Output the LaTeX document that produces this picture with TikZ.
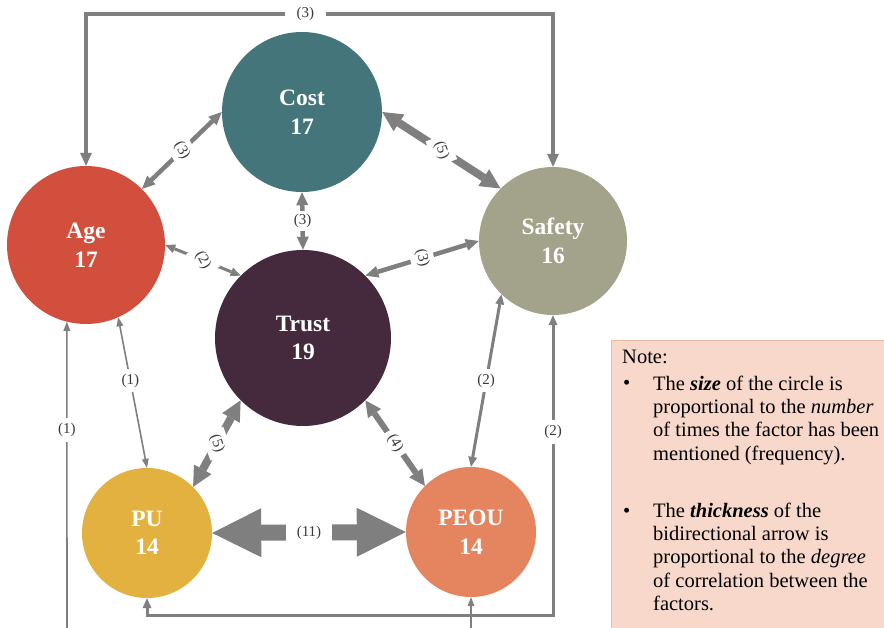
\documentclass[tikz,border=0pt]{standalone}
\usepackage{fontspec}
\setmainfont{Liberation Serif}
\usetikzlibrary{arrows.meta,calc}
\definecolor{agray}{HTML}{7F7F7F}
\definecolor{cCost}{HTML}{43757A}
\definecolor{cAge}{HTML}{D34F3D}
\definecolor{cSafety}{HTML}{A3A28A}
\definecolor{cTrust}{HTML}{45293C}
\definecolor{cPU}{HTML}{E3B13F}
\definecolor{cPEOU}{HTML}{E5855F}
\definecolor{noteFill}{HTML}{F8D8CB}
\definecolor{noteLine}{HTML}{F2B9A2}
\definecolor{lblText}{HTML}{3A3A3A}
\tikzset{
  fac/.style={circle, inner sep=0pt, text=white, align=center,
    font=\fontsize{23.5}{28.5}\selectfont\bfseries},
  lbl/.style={fill=white, text=lblText, inner sep=5pt,
    font=\fontsize{15}{15}\selectfont},
  notetext/.style={inner sep=0pt, text=black, align=left,
    font=\fontsize{20.5}{23.4}\selectfont},
  notebox/.style={fill=noteFill, draw=noteLine, line width=1pt},
  lnA/.style={draw=agray, line width=1.6pt, line join=miter},
  lnB/.style={draw=agray, line width=3pt, line join=miter},
  lnC/.style={draw=agray, line width=4.5pt, line join=miter},
  lnD/.style={draw=agray, line width=6pt},
  lnE/.style={draw=agray, line width=8pt},
  lnF/.style={draw=agray, line width=16pt},
  bothA/.style={{Triangle[length=9pt,width=7pt,line width=0pt]}-{Triangle[length=9pt,width=7pt,line width=0pt]}},
  endA/.style={-{Triangle[length=9pt,width=7pt,line width=0pt]}},
  bothB/.style={{Triangle[length=10pt,width=9pt,line width=0pt]}-{Triangle[length=10pt,width=9pt,line width=0pt]}},
  bothC/.style={{Triangle[length=13pt,width=12pt,line width=0pt]}-{Triangle[length=13pt,width=12pt,line width=0pt]}},
  bothD/.style={{Triangle[length=16pt,width=16pt,line width=0pt]}-{Triangle[length=16pt,width=16pt,line width=0pt]}},
  bothE/.style={{Triangle[length=20pt,width=20pt,line width=0pt]}-{Triangle[length=20pt,width=20pt,line width=0pt]}},
  bothF/.style={{Triangle[length=49pt,width=49pt,line width=0pt]}-{Triangle[length=49pt,width=49pt,line width=0pt]}},
}
\begin{document}
\begin{tikzpicture}[x=1pt,y=-1pt]
\useasboundingbox (0,0) rectangle (884,628);
\fill[white] (0,0) rectangle (884,628);

% note box
\node[notebox, anchor=north west, minimum width=290pt, minimum height=300pt, inner sep=0pt] (note) at (611,340) {};
\node[notetext, anchor=base west] (notehead) at (622,364) {Note:};
\node[notetext, anchor=base west] (bullet1) at (623,390) {•};
\node[notetext, anchor=base west] (item1) at (653,460.2) {The \textbf{\textit{size}} of the circle is\\proportional to the \textit{number}\\of times the factor has been\\mentioned (frequency).};
\node[notetext, anchor=base west] (bullet2) at (623,517) {•};
\node[notetext, anchor=base west] (item2) at (653,610.6) {The \textbf{\textit{thickness}} of the\\bidirectional arrow is\\proportional to the \textit{degree}\\of correlation between the\\factors.};

% factors
\node[fac, fill=cCost, minimum size=160pt] (cost) at (302,112) {Cost\\17};
\node[fac, fill=cAge, minimum size=158pt] (age) at (86,245) {Age\\17};
\node[fac, fill=cSafety, minimum size=148pt] (safety) at (553,241) {Safety\\16};
\node[fac, fill=cTrust, minimum size=176pt] (trust) at (303,338) {Trust\\19};
\node[fac, fill=cPU, minimum size=130pt] (pu) at (147,533) {PU\\14};
\node[fac, fill=cPEOU, minimum size=130pt] (peou) at (471,532) {PEOU\\14};

% helper coordinates
\coordinate (topY) at (0,14);
\coordinate (botY) at (0,615);
\coordinate (ageFeed) at (67,640);
\coordinate (peouFeed) at (471,640);

% connectors
\draw[lnC, bothC] (age.north) -- (age.north |- topY) -- node[lbl, pos=0.47, inner xsep=12pt]{(3)} (safety.north |- topY) -- (safety.north);
\draw[lnC, bothC] (age.45) -- node[lbl, rotate=-60]{(3)} (cost.180);
\draw[lnE, bothE] (cost.0) -- node[lbl, rotate=-70]{(5)} (safety.135);
\draw[lnC, bothC] (cost.south) -- node[lbl, inner sep=3pt]{(3)} (trust.north);
\draw[lnB, bothB] (age.east) -- node[lbl, rotate=-60]{(2)} (trust.135);
\draw[lnC, bothC] (safety.west) -- node[lbl, rotate=-75]{(3)} (trust.45);
\draw[lnA, bothA] (age.-66) -- node[lbl, pos=0.42]{(1)} (pu.north);
\draw[lnE, bothE] (trust.225) -- node[lbl, rotate=-70]{(5)} (pu.45);
\draw[lnD, bothD] (trust.-45) -- node[lbl, rotate=-60]{(4)} (peou.135);
\draw[lnB, bothB] (safety.226) -- node[lbl]{(2)} (peou.north);
\draw[lnF, bothF] (pu.east) -- node[lbl, inner sep=0pt, minimum width=46pt, minimum height=24pt]{(11)} (peou.west);
\draw[lnA, endA] (ageFeed) -- node[lbl, pos=0.66]{(1)} (age.256);
\draw[lnA, endA] (peouFeed) -- (peou.south);
\draw[lnB, bothB] (pu.south) -- (pu.south |- botY) -- (safety.south |- botY) -- node[lbl, pos=0.61]{(2)} (safety.south);
\end{tikzpicture}
\end{document}
